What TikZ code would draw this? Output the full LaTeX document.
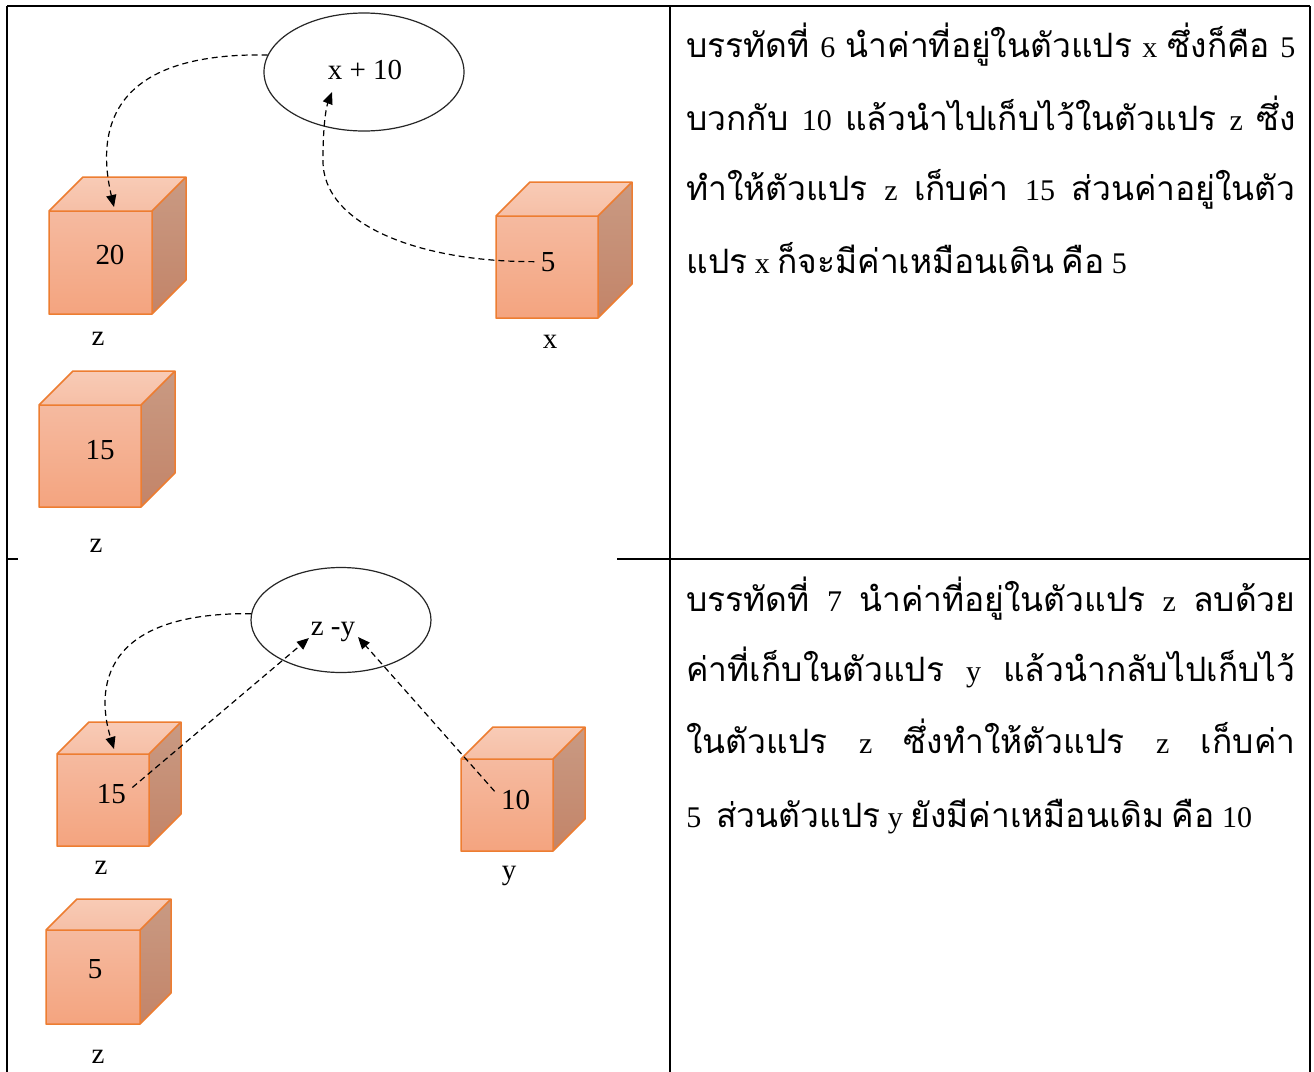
\documentclass[tikz,border=0pt]{standalone}
\usepackage{fontspec}
\setmainfont{Liberation Serif}
\newfontfamily\thaifont[Script=Thai,Scale=1.12]{Loma}
\usetikzlibrary{arrows.meta,shapes.geometric}
\newcommand\T[1]{{\thaifont #1}}
\definecolor{cubeedge}{HTML}{ED7D31}
\definecolor{ftop}{HTML}{F5BAA0}
\definecolor{fbot}{HTML}{F4A47F}
\definecolor{ttop}{HTML}{F8CBB6}
\definecolor{tbot}{HTML}{F6BFA6}
\definecolor{rtop}{HTML}{C99A83}
\definecolor{rbot}{HTML}{C38468}
\newcommand\drawcube[4]{% x, y (top-left of front face), size, depth
  \begin{scope}[shift={(#1,#2)}]
    \fill[top color=ftop, bottom color=fbot] (0,0) rectangle (#3,#3);
    \fill[top color=ttop, bottom color=tbot] (0,0) -- (#4,-#4) -- (#3+#4,-#4) -- (#3,0) -- cycle;
    \fill[top color=rtop, bottom color=rbot] (#3,0) -- (#3+#4,-#4) -- (#3+#4,#3-#4) -- (#3,#3) -- cycle;
    \draw[cubeline] (0,0) rectangle (#3,#3)
      (0,0) -- (#4,-#4) -- (#3+#4,-#4) -- (#3,0)
      (#3+#4,-#4) -- (#3+#4,#3-#4) -- (#3,#3);
  \end{scope}}
\tikzset{
  cubeline/.style={draw=cubeedge, line width=0.75pt, line join=round},
  val/.style={anchor=base, inner sep=0pt, font=\fontsize{14.5}{16}\selectfont},
  dasharrow/.style={dash pattern=on 3pt off 2pt, line width=0.6pt, -{Triangle[length=6pt,width=5pt]}},
  oval/.style={ellipse, draw=black!85, line width=0.6pt, inner sep=0pt},
  tline/.style={line width=1pt},
  para/.style={anchor=base west, inner sep=0pt, font=\fontsize{15}{17}\selectfont},
}
\begin{document}
\begin{tikzpicture}[x=0.5pt,y=-0.5pt]
\useasboundingbox (0,0) rectangle (1314,1072);
\fill[white] (0,0) rectangle (1314,1072);
% table rules
\draw[tline] (7,6) -- (1310,6);
\draw[tline] (7,6) -- (7,1072);
\draw[tline] (1310,6) -- (1310,1072);
\draw[tline] (670,6) -- (670,1072);
\draw[tline] (7,559) -- (18,559);
\draw[tline] (617,559) -- (1310,559);

% ---------- top cell ----------
\node[oval, minimum width=100pt, minimum height=59pt] (e1) at (364,72) {};
\node[val] (t1) at (365,79) {x + 10};
\drawcube{49}{211}{103}{34}
\node[val] (v20) at (110,264) {20};
\node[val] (lz1) at (98,345) {z};
\drawcube{39}{405}{102}{34}
\node[val] (v15a) at (100,459) {15};
\node[val] (lz2) at (96,552) {z};
\drawcube{496}{216}{102}{34}
\node[val] (v5) at (548,271) {5};
\node[val] (lx) at (550,348) {x};
\coordinate (tipA) at (114,207);
\coordinate (tipB) at (332,92);
\draw[dasharrow] (e1.170) .. controls (110,52) and (96,130) .. (tipA);
\draw[dasharrow] ([xshift=-3pt]v5.west) .. controls (420,262) and (322,225) .. (323,160)
  .. controls (323,120) and (327,105) .. (tipB);

% ---------- bottom cell ----------
\node[oval, minimum width=90pt, minimum height=52.5pt] (e2) at (341,620) {};
\node[val] (t2) at (333,635) {z -y};
\drawcube{57}{754}{92}{32}
\node[val] (v15b) at (111.5,803) {15};
\node[val] (lz3) at (101,874) {z};
\drawcube{46}{930}{94}{31}
\node[val] (v5b) at (95,978) {5};
\node[val] (lz4) at (98,1063) {z};
\drawcube{461}{759}{92}{32}
\node[val] (v10) at (515.5,809) {10};
\node[val] (ly) at (509,879) {y};
\coordinate (tipC) at (114,749);
\coordinate (tipD) at (309,638);
\coordinate (tipE) at (358,637);
\draw[dasharrow] (e2.176) .. controls (100,612) and (96,690) .. (tipC);
\draw[dasharrow] ([xshift=3pt,yshift=-2pt]v15b.north east) -- (tipD);
\draw[dasharrow] ([xshift=-3pt,yshift=-1pt]v10.north west) -- (tipE);

% ---------- text column ----------
\node[para] (p1a) at (686,57) {\makebox[304.5pt][s]{\T{บรรทัดที่} 6 \T{นำค่าที่อยู่ในตัวแปร} x \T{ซึ่งก็คือ} 5}};
\node[para] (p1b) at (686,130) {\makebox[304.5pt][s]{\T{บวกกับ} 10 \T{แล้วนำไปเก็บไว้ในตัวแปร} z \T{ซึ่ง}}};
\node[para] (p1c) at (686,200) {\makebox[304.5pt][s]{\T{ทำให้ตัวแปร} z \T{เก็บค่า} 15 \T{ส่วนค่าอยู่ในตัว}}};
\node[para] (p1d) at (686,273) {\T{แปร} x \T{ก็จะมีค่าเหมือนเดิน} \T{คือ} 5};

\node[para] (p2a) at (686,611) {\makebox[304.5pt][s]{\T{บรรทัดที่} 7 \T{นำค่าที่อยู่ในตัวแปร} z \T{ลบด้วย}}};
\node[para] (p2b) at (686,681) {\makebox[304.5pt][s]{\T{ค่าที่เก็บในตัวแปร} y \T{แล้วนำกลับไปเก็บไว้}}};
\node[para] (p2c) at (686,753) {\makebox[304.5pt][s]{\T{ในตัวแปร} z \T{ซึ่งทำให้ตัวแปร} z \T{เก็บค่า}}};
\node[para] (p2d) at (686,827) {5\ \ \T{ส่วนตัวแปร} y \T{ยังมีค่าเหมือนเดิม} \T{คือ} 10};
\end{tikzpicture}
\end{document}
